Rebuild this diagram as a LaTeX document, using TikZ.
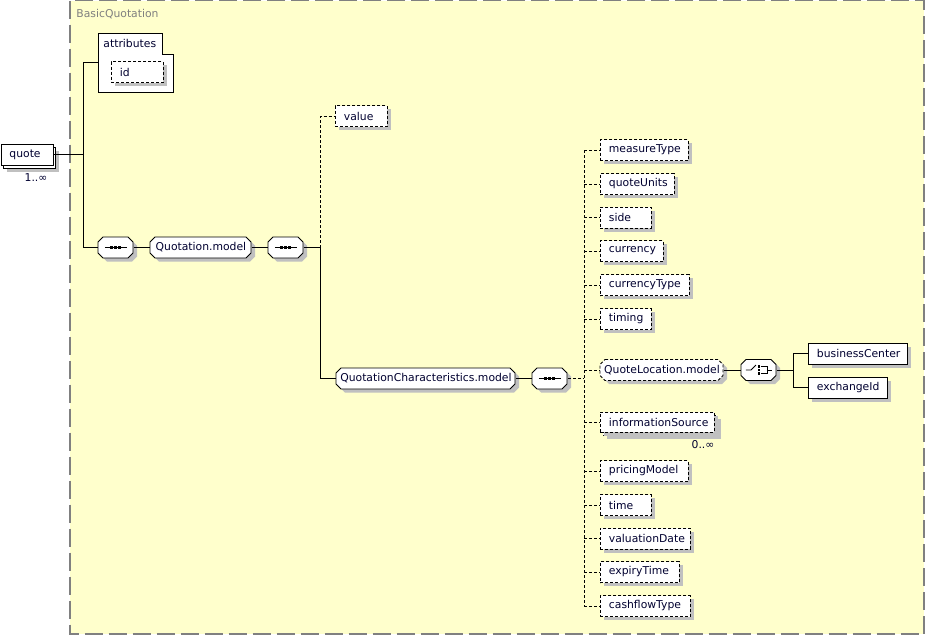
\documentclass[tikz,border=0pt]{standalone}
\usepackage{fontspec}
\setmainfont{DejaVu Sans}
\usetikzlibrary{shadows}

\definecolor{bgyellow}{RGB}{255,255,204}
\definecolor{framegray}{RGB}{128,128,128}
\definecolor{shadowgray}{RGB}{192,192,192}
\definecolor{inkblue}{RGB}{0,0,48}

\tikzset{
  boxshadow/.style={general shadow={fill=shadowgray, draw=none, shadow xshift=4pt, shadow yshift=-3.5pt}},
  plainbox/.style={draw, fill=white, text=inkblue, minimum height=21pt, inner xsep=0pt, inner ysep=0pt, anchor=west, font=\fontsize{10.8}{13}\selectfont},
  bw/.style={minimum width=#1pt, inner xsep=8.5pt, text width=\dimexpr#1pt-17pt\relax, align=left},
  elem/.style={plainbox, boxshadow},
  optbox/.style={elem, dash pattern=on 3pt off 2pt},
  dashline/.style={dash pattern=on 3pt off 2pt},
  tag/.style={text=inkblue, font=\fontsize{10.8}{13}\selectfont, inner sep=0pt}
}

% chamfered box: [line opts] name, left x, centre y, width, text
\newcommand{\chambox}[6][]{%
  \fill[shadowgray] ({#3+9},{#4-7}) -- ++({#5-10},0) -- ++(5,5) -- ++(0,11) -- ++(-5,5) -- ++({10-#5},0) -- ++(-5,-5) -- ++(0,-11) -- cycle;
  \filldraw[fill=white, #1] ({#3+5},{#4-10.5}) -- ++({#5-10},0) -- ++(5,5) -- ++(0,11) -- ++(-5,5) -- ++({10-#5},0) -- ++(-5,-5) -- ++(0,-11) -- cycle;
  \node[plainbox, draw=none, fill=none, minimum width=#5pt] (#2) at (#3,#4) {#6};}

\newcommand{\seqmark}[1]{%
  \draw ([xshift=-11pt]#1.center) -- ([xshift=11pt]#1.center);
  \foreach \dx in {-4,0,4} \fill ([xshift=\dx pt]#1.center) +(-1.5,-1.5) rectangle +(1.5,1.5);}

\begin{document}
\begin{tikzpicture}[x=1pt, y=-1pt, line width=0.9pt]
\useasboundingbox (0,0) rectangle (925,635);

% Group frame
\filldraw[fill=bgyellow, draw=framegray, line width=1.6pt, dash pattern=on 18pt off 6pt] (70,0.5) rectangle (924,634);
\node[anchor=west, text=framegray, font=\fontsize{10.8}{13}\selectfont, inner sep=0pt] (grouptitle) at (76,14) {BasicQuotation};

% Root element
\fill[shadowgray] (7,151) rectangle (59,172);
\filldraw[fill=white] (3,147.5) rectangle (55.5,168);
\node[plainbox, bw=52] (quote) at (0.5,154.5) {quote};
\node[tag] (quotecount) at (36,178) {1..∞};

% Attributes
\filldraw[fill=white] (98,33) -- (162,33) -- (162,54) -- (173,54) -- (173,92) -- (98,92) -- cycle;
\node[tag, anchor=west] (attrtitle) at (103,43) {attributes};
\node[optbox, bw=52] (id) at (111,72) {id};
\coordinate (attr) at (98,62);

% Quotation.model
\chambox{seq1}{98}{247.5}{35}{}
\chambox{qmodel}{150}{247.5}{101}{Quotation.model}
\chambox{seq2}{268}{247.5}{35}{}
\node[optbox, bw=52] (value) at (335,116) {value};

% QuotationCharacteristics.model
\chambox{qcm}{336}{378.5}{179}{QuotationCharacteristics.model}
\chambox{seq3}{532}{378.5}{35}{}

% Children
\node[optbox, bw=88] (measure) at (600,150) {measureType};
\node[optbox, bw=74] (units) at (600,184) {quoteUnits};
\node[optbox, bw=51] (side) at (600,217.5) {side};
\node[optbox, bw=63] (currency) at (600,251) {currency};
\node[optbox, bw=89] (ctype) at (600,285) {currencyType};
\node[optbox, bw=51] (timing) at (600,319) {timing};
\chambox[dashline]{qloc}{600}{370}{123}{QuoteLocation.model}
\filldraw[fill=white, dashline, boxshadow] (603,415) rectangle (717,435);
\node[optbox, bw=114, minimum height=20pt] (infosrc) at (600,422) {informationSource};
\node[tag] (infocount) at (703,445) {0..∞};
\node[optbox, bw=88] (pricing) at (600,471) {pricingModel};
\node[optbox, bw=51] (time) at (600,505) {time};
\node[optbox, bw=90] (valdate) at (600,538.5) {valuationDate};
\node[optbox, bw=79] (expiry) at (600,572) {expiryTime};
\node[optbox, bw=90] (cashflow) at (600,606) {cashflowType};

% Choice
\chambox{choice}{741}{370}{35}{}
\node[elem, bw=99] (bcenter) at (808,353.5) {businessCenter};
\node[elem, bw=79] (exid) at (808,387.5) {exchangeId};

% Compositor marks
\seqmark{seq1}
\seqmark{seq2}
\seqmark{seq3}
\draw ([xshift=-13pt]choice.center) -- ([xshift=-8pt]choice.center) -- ([xshift=-3pt,yshift=5pt]choice.center);
\foreach \dy in {-3.5,0,3.5} \fill ([yshift=\dy pt]choice.center) +(-1.2,-1.2) rectangle +(1.2,1.2);
\draw ([xshift=2pt,yshift=3.5pt]choice.center) -- ++(6,0) -- ++(0,7) -- ++(-6,0);
\draw ([xshift=8pt]choice.center) -- ([xshift=13pt]choice.center);

% Trunk coordinates
\coordinate (t1) at (83,155);
\coordinate (t2) at (320,0);
\coordinate (t3) at (584,0);
\coordinate (t4) at (793,0);

% Connectors
\draw (quote.east) -- (quote.east -| t1);
\draw (attr) -- (attr -| t1) -- (seq1.west -| t1) -- (seq1.west);
\draw (seq1) -- (qmodel) -- (seq2);
\draw (seq2.east) -- (seq2.east -| t2) -- (qcm.west -| t2) -- (qcm.west);
\draw[dashline] (seq2.east -| t2) -- (value.west -| t2) -- (value.west);
\draw (qcm) -- (seq3);
\draw[dashline] (seq3.east) -- (seq3.east -| t3);
\draw[dashline] (measure.west -| t3) -- (cashflow.west -| t3);
\draw[dashline] (measure.west -| t3) -- (measure.west);
\draw[dashline] (units.west -| t3) -- (units.west);
\draw[dashline] (side.west -| t3) -- (side.west);
\draw[dashline] (currency.west -| t3) -- (currency.west);
\draw[dashline] (ctype.west -| t3) -- (ctype.west);
\draw[dashline] (timing.west -| t3) -- (timing.west);
\draw[dashline] (qloc.west -| t3) -- (qloc.west);
\draw[dashline] (infosrc.west -| t3) -- (infosrc.west);
\draw[dashline] (pricing.west -| t3) -- (pricing.west);
\draw[dashline] (time.west -| t3) -- (time.west);
\draw[dashline] (valdate.west -| t3) -- (valdate.west);
\draw[dashline] (expiry.west -| t3) -- (expiry.west);
\draw[dashline] (cashflow.west -| t3) -- (cashflow.west);
\draw (qloc) -- (choice);
\draw (choice.east) -- (choice.east -| t4);
\draw (bcenter.west -| t4) -- (exid.west -| t4);
\draw (bcenter.west -| t4) -- (bcenter.west);
\draw (exid.west -| t4) -- (exid.west);

\end{tikzpicture}
\end{document}
